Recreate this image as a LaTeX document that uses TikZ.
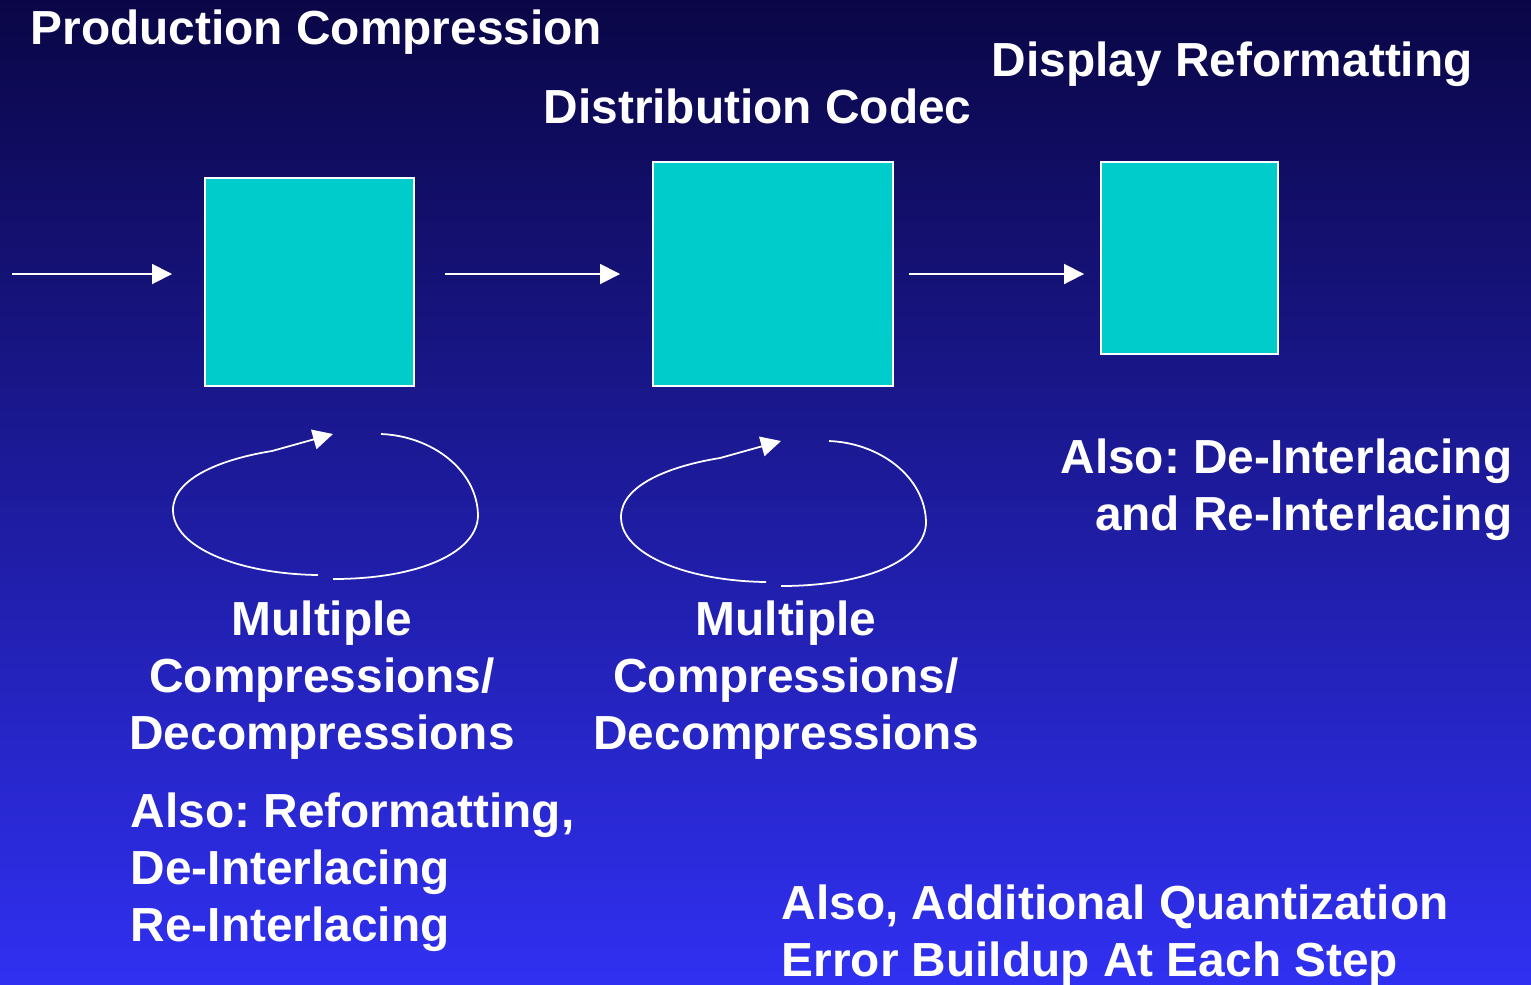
\documentclass[tikz,border=0pt]{standalone}
\usepackage{fontspec}
\setmainfont{Liberation Sans}
\frenchspacing
\usetikzlibrary{arrows.meta,positioning}
\definecolor{bgtop}{HTML}{0A0646}
\definecolor{bgmid}{HTML}{2222B0}
\definecolor{bgbot}{HTML}{3030F2}
\definecolor{boxcyan}{HTML}{00CCCC}

\tikzset{
  lbl/.style={text=white, inner sep=0pt, font=\bfseries\fontsize{13.6}{16.2}\selectfont},
  stage/.style={draw=white, fill=boxcyan, line width=0.5pt, inner sep=0pt},
  flowarrow/.style={draw=white, line width=0.5pt, -{Triangle[length=0.2cm, width=0.2cm]}},
  cycleline/.style={draw=white, line width=0.5pt}
}

\begin{document}
\begin{tikzpicture}[x=0.01cm, y=-0.01cm]
	\shade[top color=bgtop, middle color=bgmid, bottom color=bgbot] (0,0) rectangle (1531,984);
	\useasboundingbox (0,0) rectangle (1531,984);
	% the three stages
	\node[stage, minimum width=2.09cm, minimum height=2.08cm] (prod) at (309.5,282) {};
	\node[stage, minimum width=2.40cm, minimum height=2.24cm] (dist) at (773,274) {};
	\node[stage, minimum width=1.77cm, minimum height=1.92cm] (disp) at (1189.5,258) {};
	% signal path
	\coordinate (src) at (12,274);
	\draw[flowarrow, shorten >=0.32cm] (src) -- (prod.west |- dist);
	\draw[flowarrow, shorten <=0.30cm, shorten >=0.32cm] (prod.east |- dist) -- (dist.west);
	\draw[flowarrow, shorten <=0.15cm, shorten >=0.16cm] (dist.east) -- (disp.west |- dist);
	% repeated cycles
	\foreach \dx/\dy in {0/0,448/7}{
		\begin{scope}[shift={(\dx,\dy)}]
			\draw[cycleline, -{Triangle[length=0.2cm, width=0.2cm]}] (318,575) .. controls (240,574) and (173,548) .. (173,510)
			      .. controls (173,478) and (222,459) .. (272,451) -- (333,434);
			\draw[cycleline] (381,434) .. controls (432,436) and (477,470) .. (478,515)
			      .. controls (478,552) and (420,579) .. (333,579);
		\end{scope}
	}
	% labels (base = last line)
	\node[lbl, anchor=base west] (prodlbl) at (30,44) {Production Compression};
	\node[lbl, anchor=base west] (distlbl) at (543,123) {Distribution Codec};
	\node[lbl, anchor=base west] (displbl) at (991,76) {Display Reformatting};
	\node[lbl, align=center, anchor=base] (multprod) at (322,749) {Multiple\\Compressions/\\Decompressions};
	\node[lbl, align=center, anchor=base] (multdist) at (786,749) {Multiple\\Compressions/\\Decompressions};
	\node[lbl, align=left, anchor=base west] (alsoprod) at (130,941) {Also: Reformatting,\\De-Interlacing\\Re-Interlacing};
	\node[lbl, align=right, anchor=base east] (alsodisp) at (1513,530) {Also: De-Interlacing\\and Re-Interlacing};
	\node[lbl, align=left, anchor=base west] (quant) at (781,976) {Also, Additional Quantization\\Error Buildup At Each Step};
\end{tikzpicture}
\end{document}
